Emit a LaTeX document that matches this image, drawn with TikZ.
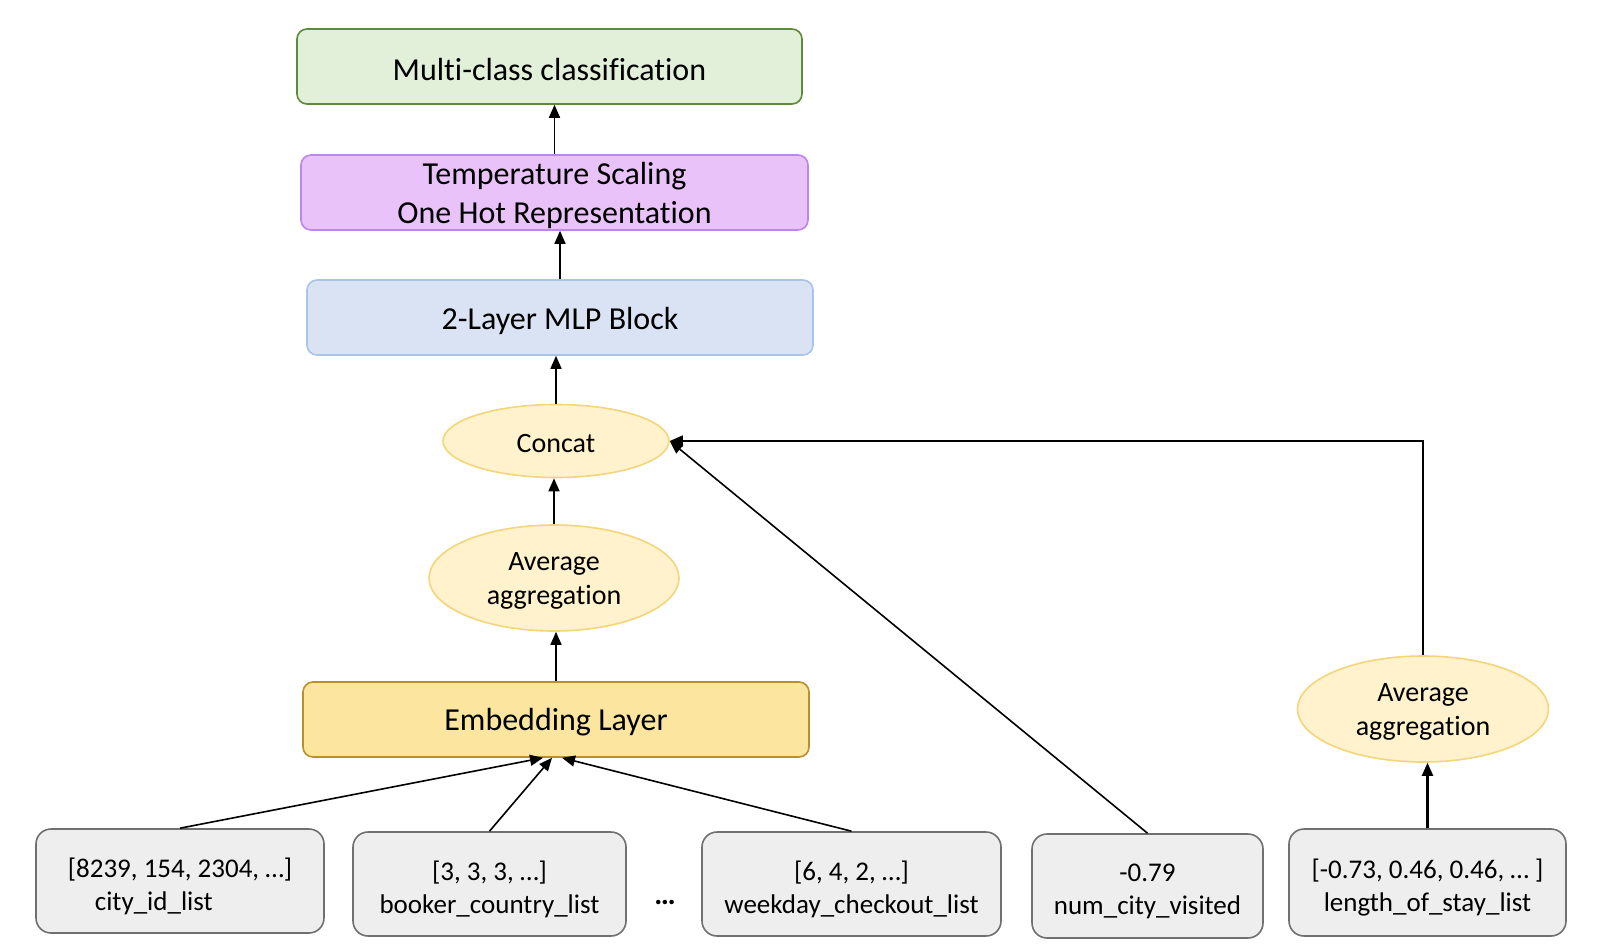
\documentclass[tikz,border=0pt]{standalone}
\usepackage{fontspec}
\setmainfont{Carlito}[Ligatures={NoCommon}]
\usetikzlibrary{arrows.meta,shapes.geometric,calc}
\definecolor{grfill}{HTML}{E2EFD9}
\definecolor{grdraw}{HTML}{5E8A3A}
\definecolor{pufill}{HTML}{E8C2F9}
\definecolor{pudraw}{HTML}{BD85EE}
\definecolor{blfill}{HTML}{DAE3F3}
\definecolor{bldraw}{HTML}{A9C4E8}
\definecolor{yefill}{HTML}{FFF2CC}
\definecolor{yedraw}{HTML}{F5D57A}
\definecolor{emfill}{HTML}{FCE59F}
\definecolor{emdraw}{HTML}{B8912A}
\definecolor{gyfill}{HTML}{EEEEEE}
\definecolor{gydraw}{HTML}{707070}
\begin{document}
\begin{tikzpicture}[x=1pt,y=-1pt,
  bigbox/.style={draw, rounded corners=10pt, line width=1.6pt, minimum width=#1, minimum height=75pt, inner sep=0pt},
  bigtxt/.style={align=center, font=\fontsize{32}{39}\selectfont, yshift=-3pt, inner sep=0pt},
  oval/.style={ellipse, draw=yedraw, fill=yefill, line width=1.6pt, inner sep=0pt},
  ovaltxt/.style={align=center, font=\fontsize{28}{34}\selectfont, yshift=-3pt, inner sep=0pt},
  inbox/.style={draw=gydraw, fill=gyfill, rounded corners=15pt, line width=1.6pt, minimum height=104pt, inner sep=0pt},
  intxt/.style={align=center, font=\fontsize{27}{33}\selectfont, yshift=-5pt, inner sep=0pt},
  conn/.style={line width=1.6pt, -{Triangle[length=13pt,width=11pt]}}
]
\useasboundingbox (0,0) rectangle (1608,950);
\node[bigbox=505pt, draw=grdraw, fill=grfill, label={[bigtxt]center:Multi-class classification}] (multi) at (549.5,66.5) {};
\node[bigbox=507pt, draw=pudraw, fill=pufill, label={[bigtxt]center:Temperature Scaling\\One Hot Representation}] (temp) at (554.5,192.5) {};
\node[bigbox=506pt, draw=bldraw, fill=blfill, label={[bigtxt]center:2-Layer MLP Block}] (mlp) at (560,317.5) {};
\node[oval, minimum width=226pt, minimum height=73pt, label={[ovaltxt]center:Concat}] (concat) at (556,441) {};
\node[oval, minimum width=250pt, minimum height=106pt, label={[ovaltxt]center:Average\\aggregation}] (avga) at (554,578) {};
\node[bigbox=506pt, draw=emdraw, fill=emfill, label={[bigtxt]center:Embedding Layer}] (emb) at (556,719.5) {};
\node[inbox, minimum width=288pt, label={[intxt, align=left]center:[8239, 154, 2304, …]\\\hspace*{27pt}city\_id\_list}] (city) at (180,881) {};
\node[inbox, minimum width=273pt, label={[intxt]center:[3, 3, 3, …]\\booker\_country\_list}] (booker) at (489.5,884) {};
\node[font=\fontsize{30}{34}\selectfont\bfseries] (dots) at (665,902) {…};
\node[inbox, minimum width=299pt, label={[intxt]center:[6, 4, 2, …]\\weekday\_checkout\_list}] (week) at (851.5,884) {};
\node[inbox, minimum width=231pt, label={[intxt]center:-0.79\\num\_city\_visited}] (numc) at (1147.5,886) {};
\node[inbox, minimum width=277pt, minimum height=107pt, label={[intxt]center:[-0.73, 0.46, 0.46, … ]\\length\_of\_stay\_list}] (los) at (1427.5,882.5) {};
\node[oval, minimum width=251pt, minimum height=106pt, label={[ovaltxt]center:Average\\aggregation}] (avgb) at (1423,709) {};
\coordinate (corner) at (avgb.north |- concat.east);
\draw[conn] (temp.north) -- (temp.north |- multi.south);
\draw[conn] (mlp.north) -- (mlp.north |- temp.south);
\draw[conn] (concat.north) -- (concat.north |- mlp.south);
\draw[conn] (avga.north) -- (avga.north |- concat.south);
\draw[conn] (emb.north) -- (emb.north |- avga.south);
\draw[conn] (city.north) -- ($(emb.south)+(-13,0)$);
\draw[conn] (booker.north) -- ($(emb.south)+(-4,0)$);
\draw[conn] (week.north) -- ($(emb.south)+(6,0)$);
\draw[conn] (numc.north) -- (concat.east);
\draw[conn] (avgb.north) -- (corner) -- (concat.east);
\draw[conn, line width=2.2pt] (los.north) -- (los.north |- avgb.south);
\end{tikzpicture}
\end{document}
